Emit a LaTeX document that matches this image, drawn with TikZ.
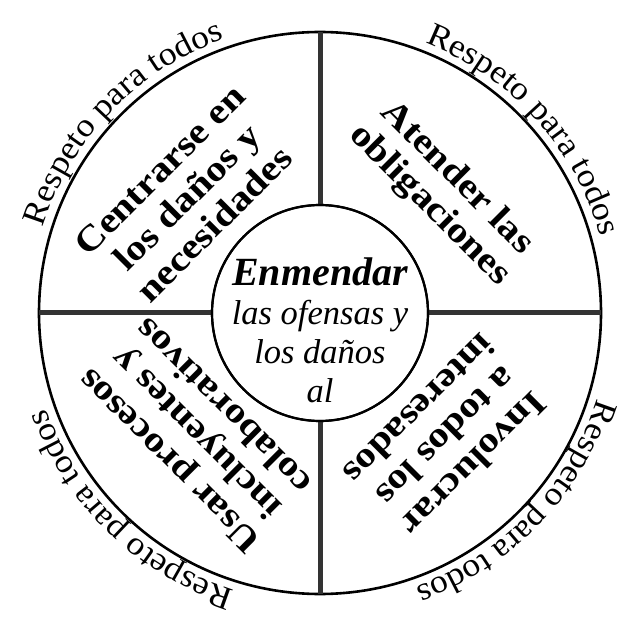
\documentclass[tikz,border=0pt]{standalone}
\usepackage{fontspec}
\setmainfont{Liberation Serif}
\newfontfamily\widefont{Liberation Serif}[FakeStretch=1.15]
\newfontfamily\respfamily{Liberation Serif}[FakeStretch=1.08]
\usetikzlibrary{decorations.text}
\newcommand\respfont{\respfamily\fontsize{33}{33}\selectfont}
\begin{document}
\begin{tikzpicture}[x=1pt,y=1pt,
  divider/.style={line width=5pt, black!80},
  ring/.style={draw, circle, line width=2.6pt, inner sep=0pt, outer sep=0pt},
  quadtext/.style={font=\widefont\fontsize{35.5}{38.5}\selectfont\bfseries, align=center, inner sep=0pt},
  centertext/.style={font=\fontsize{34.5}{34.5}\selectfont\itshape, anchor=base, inner sep=0pt},
  resp/.style={decorate, decoration={text along path, text align=center, text={|\respfont|Respeto para todos}}}
]
\useasboundingbox (0,0) rectangle (628,616);
\coordinate (O) at (320,303);
\node[ring, minimum size=562pt] (outer) at (O) {};
\node[ring, minimum size=216pt, line width=2.2pt] (inner) at (O) {};
\draw[divider] (inner.north) -- (outer.north);
\draw[divider] (inner.south) -- (outer.south);
\draw[divider] (inner.west) -- (outer.west);
\draw[divider] (inner.east) -- (outer.east);
\node[ring, minimum size=216pt, line width=2.2pt] (innerb) at (O) {};
\path[resp] (O) ++(168:290) arc[start angle=168, end angle=104, radius=290];
\path[resp] (O) ++(74:290) arc[start angle=74, end angle=10, radius=290];
\path[resp] (O) ++(-12:290) arc[start angle=-12, end angle=-76, radius=290];
\path[resp] (O) ++(258:290) arc[start angle=258, end angle=194, radius=290];
\node[quadtext, rotate=45] (q1) at (187,419) {Centrarse en\\los daños y\\necesidades};
\node[quadtext, rotate=-45] (q2) at (443,424) {Atender las\\obligaciones};
\node[quadtext, rotate=225] (q3) at (447,179) {Involucrar\\a todos los\\interesados};
\node[quadtext, rotate=135] (q4) at (196,182) {Usar procesos\\incluyentes y\\colaborativos};
\node[centertext, font=\fontsize{40}{40}\selectfont\bfseries\itshape] (c1) at (320,330) {Enmendar};
\node[centertext] (c2) at (320,291) {las ofensas y};
\node[centertext] (c3) at (320,253) {los daños};
\node[centertext] (c4) at (320,214) {al};
\end{tikzpicture}
\end{document}
